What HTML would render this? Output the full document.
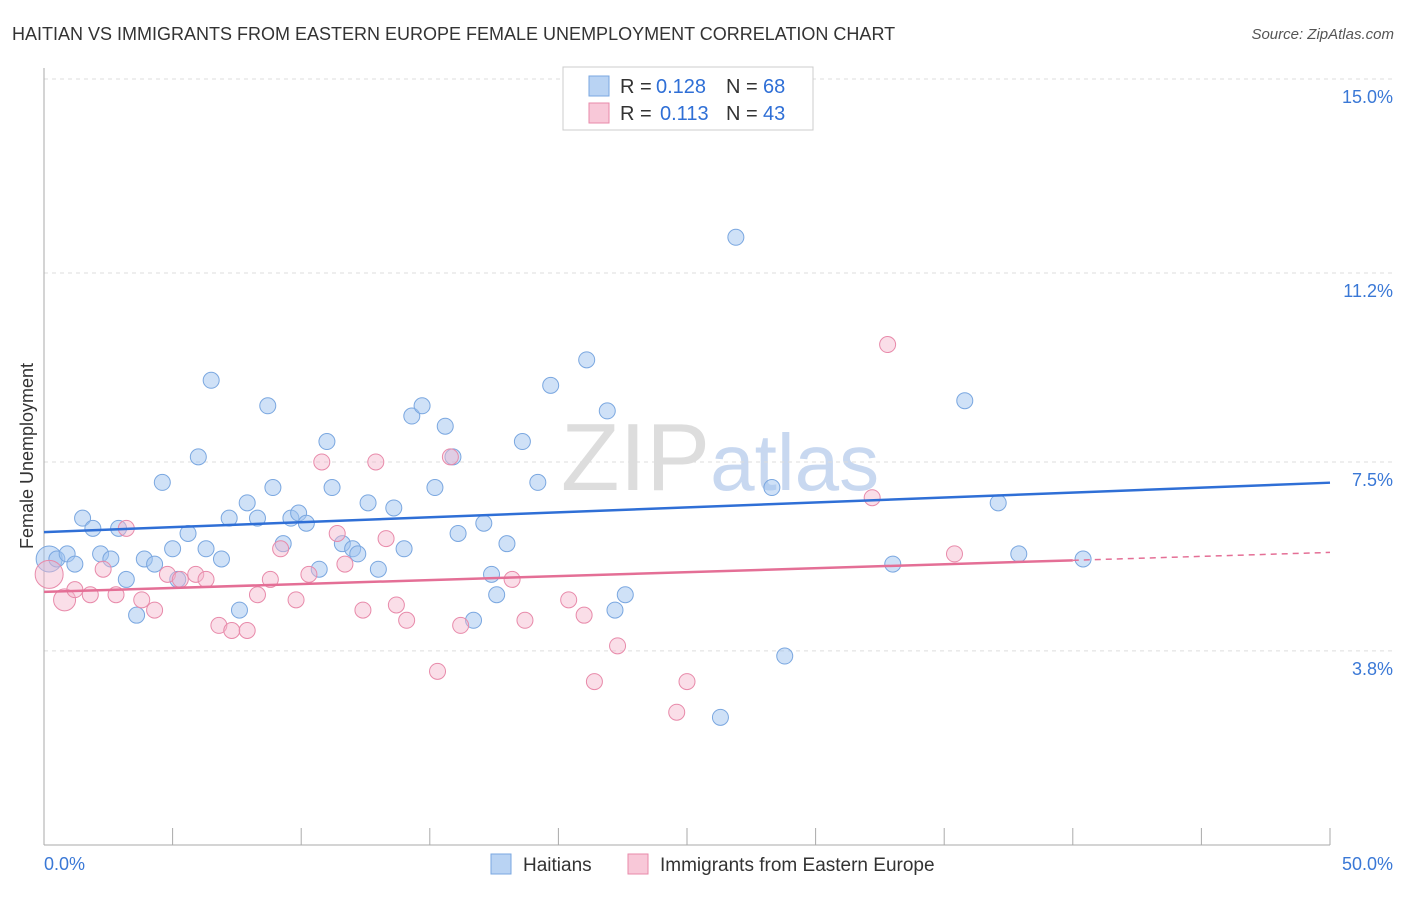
<!DOCTYPE html>
<html><head><meta charset="utf-8"><style>
body{margin:0;background:#fff;font-family:"Liberation Sans",sans-serif;}
svg text{font-family:"Liberation Sans",sans-serif;}
</style></head><body>
<svg id="chart" width="1406" height="892" xmlns="http://www.w3.org/2000/svg">
<text x="12" y="40" font-size="18" fill="#333">HAITIAN VS IMMIGRANTS FROM EASTERN EUROPE FEMALE UNEMPLOYMENT CORRELATION CHART</text>
<text x="1394" y="39" font-size="15" fill="#555" text-anchor="end" font-style="italic">Source: ZipAtlas.com</text>
<text x="720" y="490" font-size="96" fill="#ddd" text-anchor="middle" font-family="Liberation Serif">ZIP<tspan fill="#c8d8f0" font-family="Liberation Sans" font-size="80">atlas</tspan></text>
<text transform="translate(33,456) rotate(-90)" font-size="18" fill="#333" text-anchor="middle">Female Unemployment</text>
<g id="grid"></g><g id="marks"></g>
<g>
<rect x="563" y="67" width="250" height="63" fill="#fff" stroke="#ccc"/>
<rect x="589" y="76" width="20" height="20" fill="#b9d3f3" stroke="#7aa7e0"/>
<text x="620" y="93" font-size="20" fill="#333">R =</text>
<text x="656" y="93" font-size="20" fill="#2f6fd6">0.128</text>
<text x="726" y="93" font-size="20" fill="#333">N =</text>
<text x="763" y="93" font-size="20" fill="#2f6fd6">68</text>
<rect x="589" y="103" width="20" height="20" fill="#f8c8d8" stroke="#e88aaa"/>
<text x="620" y="120" font-size="20" fill="#333">R =</text>
<text x="660" y="120" font-size="20" fill="#2f6fd6">0.113</text>
<text x="726" y="120" font-size="20" fill="#333">N =</text>
<text x="763" y="120" font-size="20" fill="#2f6fd6">43</text>
</g>
<g>
<rect x="491" y="854" width="20" height="20" fill="#b9d3f3" stroke="#7aa7e0"/>
<text x="523" y="871" font-size="19" fill="#333">Haitians</text>
<rect x="628" y="854" width="20" height="20" fill="#f8c8d8" stroke="#e88aaa"/>
<text x="660" y="871" font-size="19" fill="#333">Immigrants from Eastern Europe</text>
</g>
</svg>
<script>
const yTicks=[3.8,7.5,11.2,15.0];
const yTickLabels=["3.8%","7.5%","11.2%","15.0%"];
const xTickLabels=["0.0%","50.0%"];
const blueX=[0.2,0.5,0.9,1.2,1.5,1.9,2.2,2.6,2.9,3.2,3.6,3.9,4.3,4.6,5.0,5.2,5.6,6.0,6.3,6.5,6.9,7.2,7.6,7.9,8.3,8.7,8.9,9.3,9.6,9.9,10.2,10.7,11.0,11.2,11.6,12.0,12.2,12.6,13.0,13.6,14.0,14.3,14.7,15.2,15.6,15.9,16.1,16.7,17.1,17.4,17.6,18.0,18.6,19.2,19.7,21.1,21.9,22.2,22.6,26.9,28.3,28.8,26.3,33.0,35.8,37.1,37.9,40.4];
const blueY=[5.6,5.6,5.7,5.5,6.4,6.2,5.7,5.6,6.2,5.2,4.5,5.6,5.5,7.1,5.8,5.2,6.1,7.6,5.8,9.1,5.6,6.4,4.6,6.7,6.4,8.6,7.0,5.9,6.4,6.5,6.3,5.4,7.9,7.0,5.9,5.8,5.7,6.7,5.4,6.6,5.8,8.4,8.6,7.0,8.2,7.6,6.1,4.4,6.3,5.3,4.9,5.9,7.9,7.1,9.0,9.5,8.5,4.6,4.9,11.9,7.0,3.7,2.5,5.5,8.7,6.7,5.7,5.6];
const pinkX=[0.2,0.8,1.2,1.8,2.3,2.8,3.2,3.8,4.3,4.8,5.3,5.9,6.3,6.8,7.3,7.9,8.3,8.8,9.2,9.8,10.3,10.8,11.4,11.7,12.4,12.9,13.3,13.7,14.1,15.3,15.8,16.2,18.2,18.7,20.4,21.0,21.4,22.3,24.6,25.0,32.2,32.8,35.4];
const pinkY=[5.3,4.8,5.0,4.9,5.4,4.9,6.2,4.8,4.6,5.3,5.2,5.3,5.2,4.3,4.2,4.2,4.9,5.2,5.8,4.8,5.3,7.5,6.1,5.5,4.6,7.5,6.0,4.7,4.4,3.4,7.6,4.3,5.2,4.4,4.8,4.5,3.2,3.9,2.6,3.2,6.8,9.8,5.7];
const NS="http://www.w3.org/2000/svg";
const X=v=>44+v*25.72, Y=v=>845-v*51.07;
const grid=document.getElementById('grid'), marks=document.getElementById('marks');
function mk(tag,at,parent){const e=document.createElementNS(NS,tag);for(const k in at)e.setAttribute(k,at[k]);parent.appendChild(e);return e;}
yTicks.forEach((t,i)=>{
 const l=mk('line',{x1:44,x2:1394,y1:Y(t),y2:Y(t),stroke:'#ddd','stroke-dasharray':'4,4'},grid);
 
 
 const tx=mk('text',{x:1393,y:Y(t)+24,'font-size':18,fill:'#3a78d6','text-anchor':'end'},grid);tx.textContent=yTickLabels[i];
 
 
});
const ax=mk('line',{x1:44,x2:44,y1:68,y2:845,stroke:'#aaa'},grid);


const bx=mk('line',{x1:44,x2:1330,y1:845,y2:845,stroke:'#aaa'},grid);


for(let i=1;i<=10;i++){const t=mk('line',{x1:X(i*5),x2:X(i*5),y1:828,y2:845,stroke:'#aaa'},grid);
 
 }
[[0,44,'start'],[1,1393,'end']].forEach(([i,x,a])=>{const t=mk('text',{x:x,y:870,'font-size':18,fill:'#3a78d6','text-anchor':a},grid);t.textContent=xTickLabels[i];
 
 });
function fit(xs,ys){const n=xs.length,mx=xs.reduce((a,b)=>a+b)/n,my=ys.reduce((a,b)=>a+b)/n;let sxy=0,sxx=0;xs.forEach((x,i)=>{sxy+=(x-mx)*(ys[i]-my);sxx+=(x-mx)**2});const b=sxy/sxx;return [my-b*mx,b];}
blueX.forEach((x,i)=>{const c=mk('circle',{cx:X(x),cy:Y(blueY[i]),r:i==0?13:8,fill:'rgba(160,196,240,0.5)',stroke:'#7aa7e0','stroke-width':1},marks);
 
 });
pinkX.forEach((x,i)=>{const c=mk('circle',{cx:X(x),cy:Y(pinkY[i]),r:i==0?14:(i==1?11:8),fill:'rgba(244,182,203,0.45)',stroke:'#e88aaa','stroke-width':1},marks);
 
 });
const [ba,bb]=fit(blueX,blueY), [pa,pb]=fit(pinkX,pinkY);
const bl=mk('line',{x1:X(0),y1:Y(ba),x2:X(50),y2:Y(ba+bb*50),stroke:'#2f6fd6','stroke-width':2.5},marks);


const pl=mk('line',{x1:X(0),y1:Y(pa),x2:X(40),y2:Y(pa+pb*40),stroke:'#e46f96','stroke-width':2.5},marks);


const pd=mk('line',{x1:X(40),y1:Y(pa+pb*40),x2:X(50),y2:Y(pa+pb*50),stroke:'#e46f96','stroke-width':1.5,'stroke-dasharray':'6,5'},marks);


</script>
</body></html>
